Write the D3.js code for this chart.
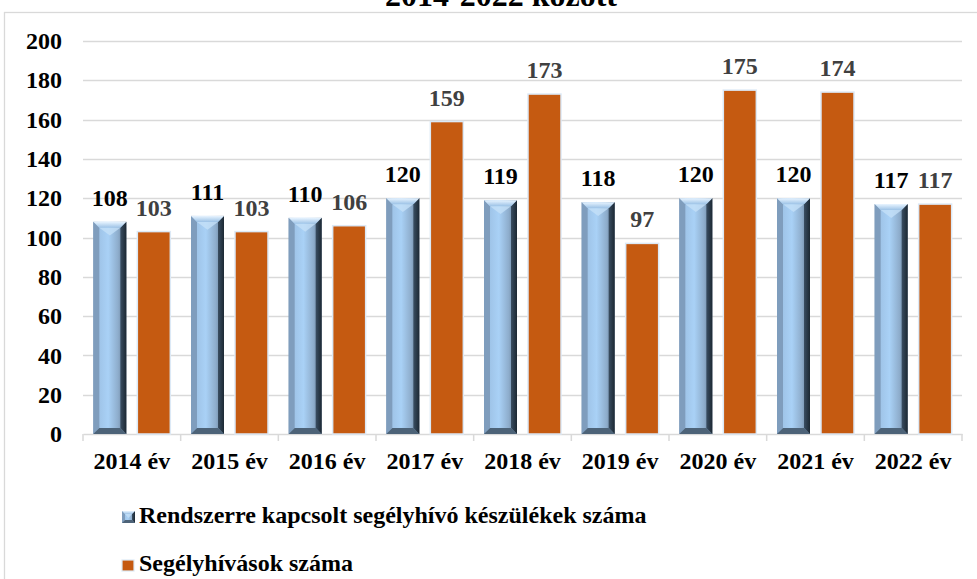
<!DOCTYPE html>
<html>
<head>
<meta charset="utf-8">
<script src="https://cdn.jsdelivr.net/npm/d3@7"></script>
<style>
  html, body { margin: 0; padding: 0; background: #fff; }
  svg { display: block; }
  svg text { font-family: "Liberation Serif", "Times New Roman", Times, serif; font-weight: bold; }
</style>
</head>
<body>
<svg id="chart" width="977" height="579"></svg>
<script>
const categories = ["2014 év","2015 év","2016 év","2017 év","2018 év","2019 év","2020 év","2021 év","2022 év"];
const seriesNames = ["Rendszerre kapcsolt segélyhívó készülékek száma", "Segélyhívások száma"];
const devices = [108, 111, 110, 120, 119, 118, 120, 120, 117];
const calls = [103, 103, 106, 159, 173, 97, 175, 174, 117];
const yTicks = [0, 20, 40, 60, 80, 100, 120, 140, 160, 180, 200];
const titleText = "2014-2022 között";

const FONT = "'Liberation Serif', 'Times New Roman', Times, serif";
const FS = "24px";
const svg = d3.select("#chart");
const W = 977, H = 579;
const plot = { left: 83, right: 962, top: 41, bottom: 434 };

const defs = svg.append("defs");
const g1 = defs.append("linearGradient").attr("id", "blueFace").attr("x1", "0").attr("x2", "1").attr("y1", "0").attr("y2", "0");
[["0%", "#7a98b8"], ["18%", "#9fc4e8"], ["45%", "#a9d1f6"], ["75%", "#8eadcc"], ["100%", "#5b728a"]]
  .forEach(([o, c]) => g1.append("stop").attr("offset", o).attr("stop-color", c));
const g2 = defs.append("linearGradient").attr("id", "blueTop").attr("x1", "0").attr("x2", "0").attr("y1", "0").attr("y2", "1");
[["0%", "#e8f4ff"], ["100%", "#9cc2e6"]].forEach(([o, c]) => g2.append("stop").attr("offset", o).attr("stop-color", c));
const g3 = defs.append("linearGradient").attr("id", "blueRight").attr("x1", "0").attr("x2", "1").attr("y1", "0").attr("y2", "0");
[["0%", "#3a4e62"], ["100%", "#1c2833"]].forEach(([o, c]) => g3.append("stop").attr("offset", o).attr("stop-color", c));

svg.append("rect").attr("x", 4.5).attr("y", 12.5).attr("width", W).attr("height", H)
  .attr("fill", "none").attr("stroke", "#d9d9d9").attr("stroke-width", 1.3);

svg.append("text").attr("x", 501).attr("y", 6).attr("text-anchor", "middle")
  .style("font-family", FONT).style("font-size", "32px").attr("fill", "#000").text(titleText);

const y = d3.scaleLinear().domain([0, 200]).range([plot.bottom, plot.top]);
const x = d3.scaleBand().domain(categories).range([plot.left, plot.right]).paddingInner(0).paddingOuter(0);
const xs = d3.scaleBand().domain([0, 1]).range([0, x.bandwidth()]).paddingInner(0.25).paddingOuter(0.235);

svg.append("g").selectAll("line").data(yTicks.filter(d => d > 0)).join("line")
  .attr("x1", plot.left).attr("x2", plot.right)
  .attr("y1", d => Math.round(y(d)) + 0.5).attr("y2", d => Math.round(y(d)) + 0.5)
  .attr("stroke", "#d9d9d9").attr("stroke-width", 1.3);

const yAxis = d3.axisLeft(y).tickValues(yTicks).tickSize(0).tickPadding(0);
const yg = svg.append("g").attr("transform", `translate(62,0)`).call(yAxis);
yg.attr("font-family", null).attr("font-size", null);
yg.select(".domain").remove();
yg.selectAll("text").style("font-family", FONT).style("font-size", FS).attr("fill", "#000");

const xAxis = d3.axisBottom(x).tickSize(0).tickPadding(0);
const xg = svg.append("g").attr("transform", `translate(0,${plot.bottom})`).call(xAxis);
xg.attr("font-family", null).attr("font-size", null);
xg.select(".domain").attr("stroke", "#d9d9d9").attr("stroke-width", 1.5);
xg.selectAll("text").style("font-family", FONT).style("font-size", FS).attr("fill", "#000").attr("dy", null).attr("y", 35);
const bounds = categories.map(c => x(c)).concat([plot.right]);
svg.append("g").selectAll("line").data(bounds).join("line")
  .attr("x1", d => d).attr("x2", d => d).attr("y1", plot.bottom).attr("y2", plot.bottom + 7)
  .attr("stroke", "#d9d9d9").attr("stroke-width", 1.5);

function bevelBar(g, x0, w, yTop, yBot, b) {
  const x1 = x0 + w;
  g.append("rect").attr("x", x0).attr("y", yTop).attr("width", w).attr("height", yBot - yTop).attr("fill", "url(#blueFace)");
  g.append("polygon").attr("points", [[x1 - b, yTop + b], [x1, yTop], [x1, yBot], [x1 - b, yBot - b]].join(" "))
    .attr("fill", "url(#blueRight)");
  g.append("polygon").attr("points", [[x0, yTop], [x0 + b, yTop + b], [x0 + b, yBot - b], [x0, yBot]].join(" "))
    .attr("fill", "#7f9dbd");
  g.append("polygon").attr("points", [[x0, yTop], [x1, yTop], [x1 - b, yTop + b], [x0 + b, yTop + b]].join(" "))
    .attr("fill", "url(#blueTop)");
  const cx = x0 + w / 2;
  g.append("polygon").attr("points", [[x0 + b, yTop + b], [x1 - b, yTop + b], [cx, yTop + b + b * 1.3]].join(" "))
    .attr("fill", "#c4e0f8").attr("opacity", 0.8);
  g.append("polygon").attr("points", [[x0, yBot], [x1, yBot], [x1 - b, yBot - b], [x0 + b, yBot - b]].join(" "))
    .attr("fill", "#4d6378");
}

const barsG = svg.append("g");
categories.forEach((c, i) => {
  bevelBar(barsG.append("g"), x(c) + xs(0), xs.bandwidth(), y(devices[i]), y(0), 6);
});

svg.append("g").selectAll("rect").data(calls).join("rect")
  .attr("x", (d, i) => x(categories[i]) + xs(1))
  .attr("y", d => y(d))
  .attr("width", xs.bandwidth())
  .attr("height", d => y(0) - y(d))
  .attr("fill", "#c55a11").attr("stroke", "#dce9f6").attr("stroke-width", 1.5);

svg.append("g").selectAll("text").data(devices).join("text")
  .attr("x", (d, i) => x(categories[i]) + xs(0) + xs.bandwidth() / 2)
  .attr("y", d => y(d) - 16)
  .attr("text-anchor", "middle").style("font-family", FONT).style("font-size", FS).attr("fill", "#000")
  .text(d => d);
svg.append("g").selectAll("text").data(calls).join("text")
  .attr("x", (d, i) => x(categories[i]) + xs(1) + xs.bandwidth() / 2)
  .attr("y", d => y(d) - 16)
  .attr("text-anchor", "middle").style("font-family", FONT).style("font-size", FS).attr("fill", "#404040")
  .text(d => d);

const lg = svg.append("g");
bevelBar(lg.append("g"), 122, 13, 511, 523, 3);
lg.append("text").attr("x", 139).attr("y", 523).style("font-family", FONT).style("font-size", FS).attr("fill", "#000").text(seriesNames[0]);
lg.append("rect").attr("x", 122).attr("y", 560).attr("width", 12).attr("height", 11)
  .attr("fill", "#c55a11").attr("stroke", "#dce9f6").attr("stroke-width", 1.2);
lg.append("text").attr("x", 139).attr("y", 571).style("font-family", FONT).style("font-size", FS).attr("fill", "#000").text(seriesNames[1]);
</script>
</body>
</html>
